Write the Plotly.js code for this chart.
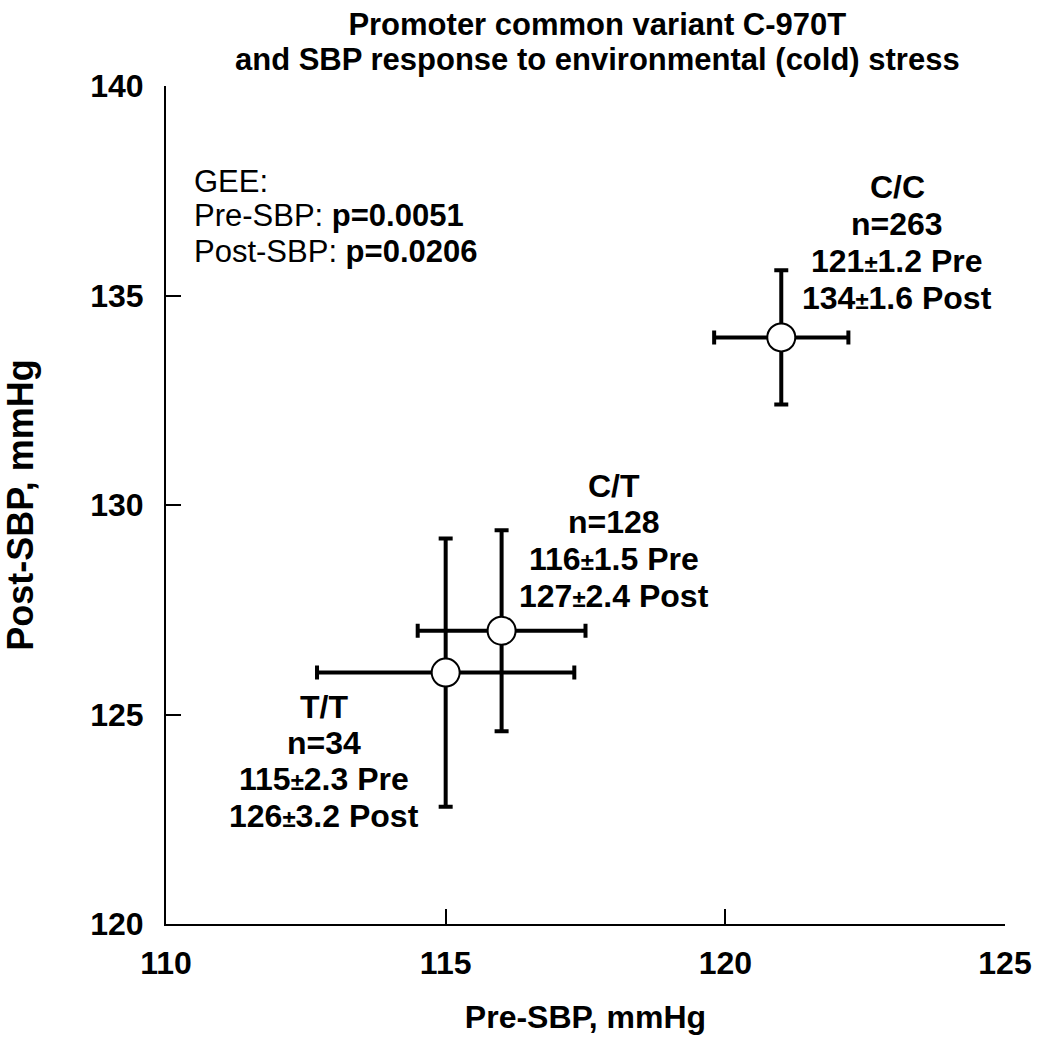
<!DOCTYPE html>
<html>
<head>
<meta charset="utf-8">
<script src="https://cdn.plot.ly/plotly-3.0.1.min.js"></script>
<style>html,body{margin:0;padding:0;background:#fff;}</style>
</head>
<body>
<div id="chart" style="width:1037px;height:1040px;"></div>
<script>
// ---- data ----
const genotypes = ['C/C', 'C/T', 'T/T'];
const nSubjects = [263, 128, 34];
const preMean = [121, 116, 115];
const preSE = [1.2, 1.5, 2.3];
const postMean = [134, 127, 126];
const postSE = [1.6, 2.4, 3.2];
const xTicks = [110, 115, 120, 125];
const yTicks = [120, 125, 130, 135, 140];
const titleLines = ['Promoter common variant C-970T', 'and SBP response to environmental (cold) stress'];
const geeLines = [
  {label: 'GEE:', p: ''},
  {label: 'Pre-SBP: ', p: 'p=0.0051'},
  {label: 'Post-SBP: ', p: 'p=0.0206'}
];

// ---- label placement (pixel offsets from each point) ----
const labelDx = [116, 112, -122];
const labelDy = [[150, 113, 76, 39], [145, 109, 72, 35], [-34, -70, -106, -143]];

const FONT = 'Liberation Sans, Arial, Helvetica, sans-serif';
const pm = '<span style="font-size:24px">±</span>';

const trace = {
  type: 'scatter',
  mode: 'markers',
  x: preMean,
  y: postMean,
  error_x: {type: 'data', array: preSE, visible: true, color: '#000', thickness: 4, width: 7},
  error_y: {type: 'data', array: postSE, visible: true, color: '#000', thickness: 4, width: 7},
  marker: {symbol: 'circle', size: 28, color: '#fff', line: {color: '#000', width: 2}},
  hoverinfo: 'x+y',
  showlegend: false
};

const annotations = [];
genotypes.forEach((g, i) => {
  const lines = [
    g,
    'n=' + nSubjects[i],
    preMean[i] + pm + preSE[i].toFixed(1) + ' Pre',
    postMean[i] + pm + postSE[i].toFixed(1) + ' Post'
  ];
  lines.forEach((t, j) => {
    annotations.push({
      x: preMean[i], y: postMean[i], xref: 'x', yref: 'y',
      text: t, showarrow: false,
      xanchor: 'center', yanchor: 'middle',
      xshift: labelDx[i], yshift: labelDy[i][j],
      font: {family: FONT, size: 32, color: '#000', weight: 'bold'}
    });
  });
});
const geeY = [0.8866, 0.8449, 0.8031];
geeLines.forEach((l, j) => {
  annotations.push({
    x: 0.031, y: geeY[j], xref: 'paper', yref: 'paper',
    text: l.label + (l.p ? '<b>' + l.p + '</b>' : ''),
    showarrow: false, xanchor: 'left', yanchor: 'middle',
    font: {family: FONT, size: 31, color: '#000'}
  });
});

const layout = {
  width: 1037, height: 1040,
  margin: {l: 166, r: 32, t: 86, b: 116},
  paper_bgcolor: '#fff', plot_bgcolor: '#fff',
  font: {family: FONT, color: '#000'},
  title: {
    text: titleLines.map(t => '<span style="font-size:31px">' + t + '</span>').join('<br>'),
    font: {family: FONT, size: 27, color: '#000', weight: 'bold'},
    xref: 'container', yref: 'container',
    x: 0.576, xanchor: 'center', y: 0.9663, yanchor: 'top'
  },
  xaxis: {
    range: [110, 125], tickvals: xTicks, ticktext: xTicks.map(String),
    ticks: 'inside', ticklen: 15, tickwidth: 2, tickcolor: '#000',
    showline: true, linewidth: 2, linecolor: '#000',
    showgrid: false, zeroline: false, mirror: false,
    ticklabelstandoff: 10,
    tickfont: {family: FONT, size: 32, color: '#000', weight: 'bold'},
    title: {text: 'Pre-SBP, mmHg', standoff: 25, font: {family: FONT, size: 32, color: '#000', weight: 'bold'}},
    automargin: false, fixedrange: true
  },
  yaxis: {
    range: [120, 140], tickvals: yTicks, ticktext: yTicks.map(String),
    ticks: 'inside', ticklen: 15, tickwidth: 2, tickcolor: '#000',
    showline: true, linewidth: 2, linecolor: '#000',
    showgrid: false, zeroline: false, mirror: false,
    ticklabelstandoff: 14,
    tickfont: {family: FONT, size: 32, color: '#000', weight: 'bold'},
    title: {text: 'Post-SBP, mmHg', standoff: 50, font: {family: FONT, size: 36, color: '#000', weight: 'bold'}},
    automargin: false, fixedrange: true
  },
  annotations: annotations,
  showlegend: false
};

Plotly.newPlot('chart', [trace], layout, {displayModeBar: false});
</script>
</body>
</html>
